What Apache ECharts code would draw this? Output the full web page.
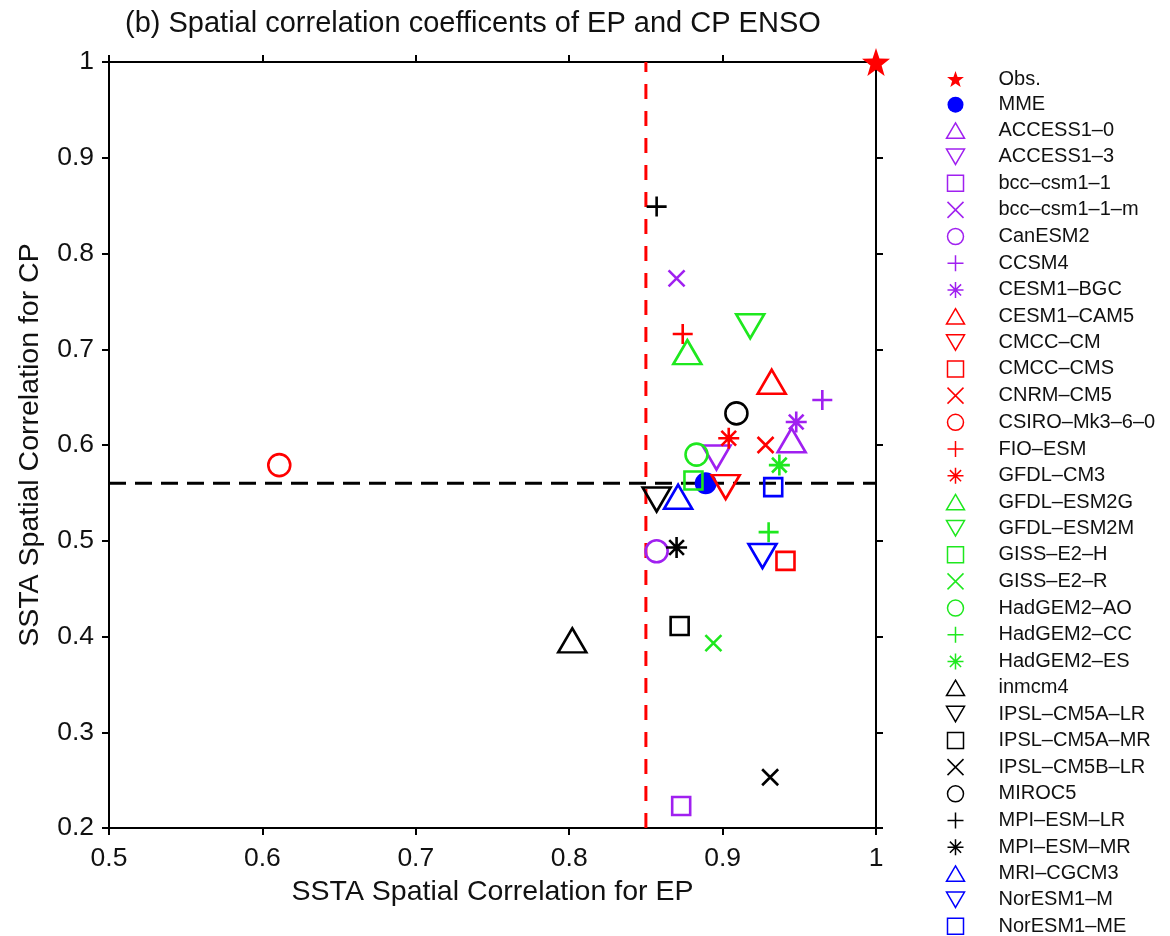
<!DOCTYPE html>
<html><head><meta charset="utf-8">
<script src="https://cdn.jsdelivr.net/npm/echarts@6/dist/echarts.min.js"></script>
<style>html,body{margin:0;padding:0;background:#fff}#c{width:1170px;height:936px}</style>
</head><body><div id="c"></div>
<script>
// ---- data ----
const modelNames = ['Obs.','MME','ACCESS1-0','ACCESS1-3','bcc-csm1-1','bcc-csm1-1-m','CanESM2','CCSM4','CESM1-BGC','CESM1-CAM5','CMCC-CM','CMCC-CMS','CNRM-CM5','CSIRO-Mk3-6-0','FIO-ESM','GFDL-CM3','GFDL-ESM2G','GFDL-ESM2M','GISS-E2-H','GISS-E2-R','HadGEM2-AO','HadGEM2-CC','HadGEM2-ES','inmcm4','IPSL-CM5A-LR','IPSL-CM5A-MR','IPSL-CM5B-LR','MIROC5','MPI-ESM-LR','MPI-ESM-MR','MRI-CGCM3','NorESM1-M','NorESM1-ME'];
const epCorr = [1.000,0.889,0.945,0.896,0.873,0.870,0.857,0.965,0.948,0.932,0.902,0.941,0.928,0.611,0.874,0.904,0.877,0.918,0.881,0.894,0.883,0.930,0.937,0.802,0.857,0.872,0.931,0.909,0.857,0.870,0.871,0.926,0.933];
const cpCorr = [1.000,0.560,0.605,0.587,0.223,0.774,0.489,0.647,0.624,0.666,0.556,0.479,0.600,0.579,0.716,0.607,0.697,0.724,0.563,0.393,0.590,0.509,0.579,0.396,0.543,0.411,0.253,0.633,0.849,0.493,0.546,0.484,0.556];
const epThreshold = 0.85;
const cpThreshold = 0.56;
const xTicks = [0.5,0.6,0.7,0.8,0.9,1];
const yTicks = [0.2,0.3,0.4,0.5,0.6,0.7,0.8,0.9,1];

// ---- styles ----
const C = {purple:'#a020f0', red:'#ff0000', green:'#1ee81e', black:'#000000', blue:'#0000ff'};
const modelColors = ['red','blue','purple','purple','purple','purple','purple','purple','purple','red','red','red','red','red','red','red','green','green','green','green','green','green','green','black','black','black','black','black','black','black','blue','blue','blue'];
const modelShapes = ['obs','mme','tu','td','sq','x','ci','pl','as','tu','td','sq','x','ci','pl','as','tu','td','sq','x','ci','pl','as','tu','td','sq','x','ci','pl','as','tu','td','sq'];
const SHAPES = {
  obs:{symbol:'path://M10,0L12.35,6.76L19.51,6.91L13.8,11.24L15.88,18.09L10,14L4.12,18.09L6.2,11.24L0.49,6.91L7.65,6.76Z', size:28, fill:true},
  mme:{symbol:'circle', size:22, fill:true},
  tu:{symbol:'path://M14,0L28,24L0,24Z', size:[28,24]},
  td:{symbol:'path://M0,0L28,0L14,24Z', size:[28,24]},
  sq:{symbol:'path://M0,0L18,0L18,18L0,18Z', size:18},
  x:{symbol:'path://M0,0L16,16M16,0L0,16', size:16},
  ci:{symbol:'circle', size:22},
  pl:{symbol:'path://M10,0L10,20M0,10L20,10', size:20},
  as:{symbol:'path://M10,0L10,20M0,10L20,10M3,3L17,17M17,3L3,17', size:21}
};

const series = modelNames.map((n,i)=>{
  const s = SHAPES[modelShapes[i]];
  const col = C[modelColors[i]];
  return {
    name:n, type:'scatter', clip:false, z: 5,
    symbol:s.symbol, symbolSize:s.size,
    itemStyle: s.fill ? {color:col, borderWidth:0, opacity:1} : {color:'none', borderColor:col, borderWidth:2.6, opacity:1},
    emphasis:{disabled:true},
    data:[[epCorr[i], cpCorr[i]]]
  };
});
series.unshift({
  type:'line', name:'hline', silent:true, z:3, symbol:'none',
  lineStyle:{color:'#000', width:3, type:[17,9]},
  data:[[0.5,cpThreshold],[1,cpThreshold]]
},{
  type:'line', name:'vline', silent:true, z:3, symbol:'none',
  lineStyle:{color:'#ff0000', width:3, type:[15,12]},
  data:[[epThreshold,0.2],[epThreshold,1]]
});

const font = 'Liberation Sans, Arial, Helvetica, sans-serif';
const axisLine = {show:true, lineStyle:{color:'#000', width:2}};
const axisTick = {show:true, inside:false, length:7, lineStyle:{color:'#000', width:2}};
const fmt = v=>String(+v.toFixed(1));
const chart = echarts.init(document.getElementById('c'), null, {renderer:'canvas'});
chart.setOption({
  animation:false,
  backgroundColor:'#fff',
  title:{text:'(b) Spatial correlation coefficents of EP and CP ENSO', left:120, top:4,
    textStyle:{fontFamily:font, fontSize:29, fontWeight:'normal', color:'#111'}},
  grid:{left:109, right:294, top:62, bottom:108, containLabel:false},
  xAxis:[{
    type:'value', min:xTicks[0], max:xTicks[xTicks.length-1], interval:0.1, position:'bottom',
    splitLine:{show:false}, axisLine:axisLine, axisTick:axisTick,
    axisLabel:{fontFamily:font, fontSize:26.5, color:'#111', margin:17, formatter:fmt},
    name:'SSTA Spatial Correlation for EP', nameLocation:'middle', nameGap:50,
    nameTextStyle:{fontFamily:font, fontSize:28.5, color:'#111'}
  },{
    type:'value', min:xTicks[0], max:xTicks[xTicks.length-1], interval:0.1, position:'top',
    splitLine:{show:false}, axisLine:axisLine, axisTick:axisTick, axisLabel:{show:false}
  }],
  yAxis:[{
    type:'value', min:yTicks[0], max:yTicks[yTicks.length-1], interval:0.1, position:'left',
    splitLine:{show:false}, axisLine:axisLine, axisTick:axisTick,
    axisLabel:{fontFamily:font, fontSize:26.5, color:'#111', margin:15, formatter:fmt},
    name:'SSTA Spatial Correlation for CP', nameLocation:'middle', nameGap:64,
    nameTextStyle:{fontFamily:font, fontSize:28.5, color:'#111'}
  },{
    type:'value', min:yTicks[0], max:yTicks[yTicks.length-1], interval:0.1, position:'right',
    splitLine:{show:false}, axisLine:axisLine, axisTick:axisTick, axisLabel:{show:false}
  }],
  legend:{
    orient:'vertical', left:944, top:69, height:900, padding:0,
    data:modelNames,
    itemWidth:18, itemHeight:16, itemGap:5.7,
    selectedMode:false,
    itemStyle:{borderWidth:1.5},
    formatter:n=>n.replace(/-/g,'\u2013'),
    textStyle:{fontFamily:font, fontSize:20, color:'#111', padding:[0,0,0,29]}
  },
  series:series
});
</script></body></html>
